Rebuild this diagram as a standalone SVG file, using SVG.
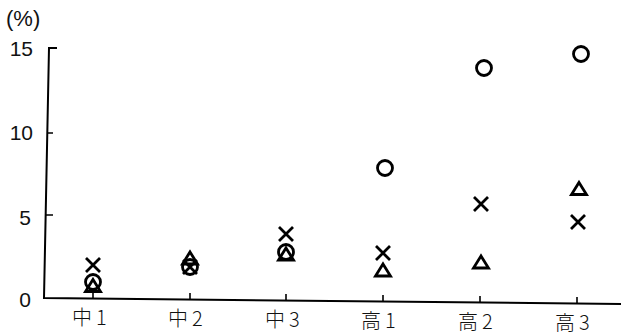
<svg xmlns="http://www.w3.org/2000/svg" xmlns:xlink="http://www.w3.org/1999/xlink" width="621" height="336" viewBox="0 0 621 336">
  <style>
    .axis { fill: none; stroke: #000; stroke-width: 2; }
    .tick { fill: none; stroke: #000; stroke-width: 1.6; }
    .ylab { font-family: "Liberation Sans", "DejaVu Sans", sans-serif; font-size: 21px; fill: #111; text-anchor: end; }
    .xlab { font-family: "Noto Sans CJK JP", "Noto Sans CJK SC", sans-serif; font-size: 20px; font-weight: 300; fill: #111; letter-spacing: 4px; }
    .sym { fill: none; stroke: #000; stroke-width: 2.8; }
  </style>
  <defs>
    <circle id="circ" cx="0" cy="0" r="7.5" class="sym"/>
    <path id="cross" d="M-7,-7 L7,7 M7,-7 L-7,7" class="sym"/>
    <path id="tri" d="M0,-5.5 L7.5,6.5 L-7.5,6.5 Z" class="sym"/>
  </defs>

  <g id="axes">
    <path class="axis" d="M57,48 L49,48 L44,298 L621,304"/>
    <path class="tick" d="M47.4,133 L53,133 M45.7,215 L53,215"/>
    <path class="tick" d="M93,292 L93,298.5 M190,293 L190,299.5 M286,294 L286,300.5 M383,295 L383,301.5 M480,296 L480,302.5 M577,297 L577,303.5"/>
  </g>

  <g id="y-labels">
    <text x="6" y="26" style="font-family:'Liberation Sans','DejaVu Sans',sans-serif;font-size:22px;fill:#111">(%)</text>
    <text class="ylab" x="33" y="56">15</text>
    <text class="ylab" x="33" y="140">10</text>
    <text class="ylab" x="31" y="225">5</text>
    <text class="ylab" x="31" y="307">0</text>
  </g>

  <g id="x-labels">
    <text class="xlab" x="72" y="325">中1</text>
    <text class="xlab" x="168" y="326">中2</text>
    <text class="xlab" x="265" y="327">中3</text>
    <text class="xlab" x="361" y="328">高1</text>
    <text class="xlab" x="458" y="329">高2</text>
    <text class="xlab" x="555" y="330">高3</text>
  </g>

  <g id="series-circle">
    <use xlink:href="#circ" x="93" y="282"/>
    <use xlink:href="#circ" x="190" y="267"/>
    <use xlink:href="#circ" x="286" y="252"/>
    <use xlink:href="#circ" x="385" y="168"/>
    <use xlink:href="#circ" x="484" y="68"/>
    <use xlink:href="#circ" x="581" y="54"/>
  </g>

  <g id="series-cross">
    <use xlink:href="#cross" x="93" y="265"/>
    <use xlink:href="#cross" x="190" y="267"/>
    <use xlink:href="#cross" x="286" y="234"/>
    <use xlink:href="#cross" x="383" y="253"/>
    <use xlink:href="#cross" x="481" y="204"/>
    <use xlink:href="#cross" x="578" y="222"/>
  </g>

  <g id="series-triangle">
    <use xlink:href="#tri" x="93" y="285"/>
    <use xlink:href="#tri" x="190" y="257.5"/>
    <use xlink:href="#tri" x="286" y="253.5"/>
    <use xlink:href="#tri" x="383" y="269.5"/>
    <use xlink:href="#tri" x="481" y="261.5"/>
    <use xlink:href="#tri" x="579" y="188"/>
  </g>
</svg>
